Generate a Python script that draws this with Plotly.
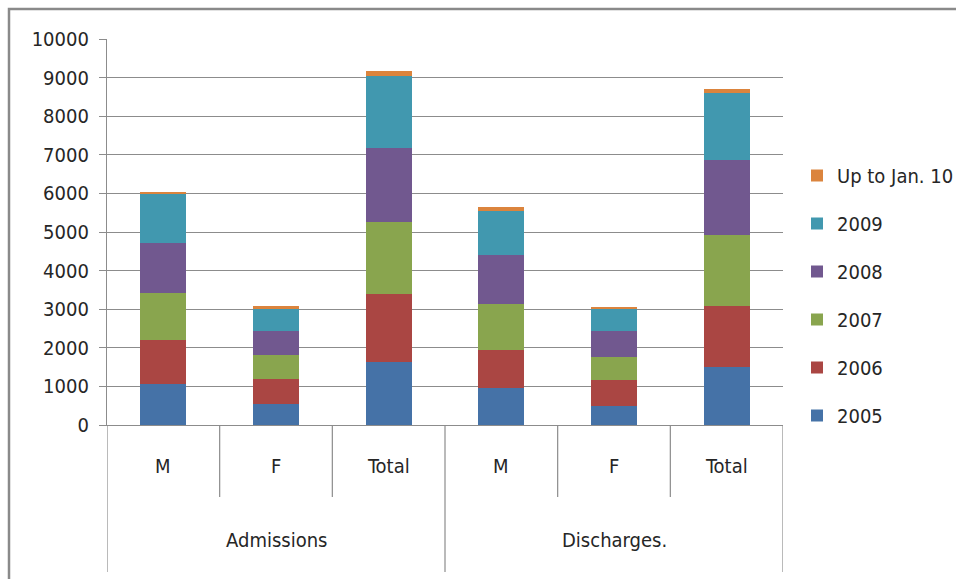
import plotly.graph_objects as go

# Stacked admissions / discharges by year
groups = ["Admissions", "Admissions", "Admissions", "Discharges.", "Discharges.", "Discharges."]
subcats = ["M", "F", "Total", "M", "F", "Total"]
group_labels = ["Admissions", "Discharges."]

series_names = ["2005", "2006", "2007", "2008", "2009", "Up to Jan. 10"]
v2005 = [1065, 537, 1636, 970, 502, 1498]
v2006 = [1134, 666, 1758, 961, 667, 1593]
v2007 = [1221, 598, 1853, 1195, 597, 1827]
v2008 = [1299, 623, 1922, 1290, 658, 1956]
v2009 = [1264, 606, 1861, 1125, 572, 1732]
vjan10 = [60, 44, 130, 104, 69, 95]
series_values = [v2005, v2006, v2007, v2008, v2009, vjan10]

colors = ["#4572A7", "#AA4643", "#89A54E", "#71588F", "#4198AF", "#DB843D"]

y_ticks = [0, 1000, 2000, 3000, 4000, 5000, 6000, 7000, 8000, 9000, 10000]
y_tick_text = [str(v) for v in y_ticks]

W, H = 956, 579
ML, MR, MT, MB = 107, 173, 39, 154
PW, PH = W - ML - MR, H - MT - MB

FONT = "Liberation Sans Narrow, DejaVu Sans Condensed, Arial Narrow, sans-serif"
FS = 20
GRID = "#8c8c8c"
TEXT = "#262626"


def px_x(px):
    return (px - ML) / PW


def px_y(py):
    return (H - MB - py) / PH


xs = list(range(len(subcats)))
n = len(series_names)

fig = go.Figure()
for i, (name, vals, col) in enumerate(zip(series_names, series_values, colors)):
    fig.add_trace(go.Bar(
        x=xs, y=vals, name=name, marker=dict(color=col, line=dict(width=0)),
        legendgroup=name, legendrank=n - i,
    ))

shapes = []
# boundaries between sub-categories (short) and between groups (long)
for b in [0.5, 1.5, 3.5, 4.5]:
    shapes.append(dict(type="line", xref="x", yref="paper", x0=b, x1=b,
                       y0=0, y1=px_y(497), line=dict(color=GRID, width=1.2)))
for b in [-0.5, 2.5, 5.5]:
    shapes.append(dict(type="line", xref="x", yref="paper", x0=b, x1=b,
                       y0=0, y1=px_y(572), line=dict(color=GRID, width=1.2)))
# chart frame
shapes.append(dict(type="rect", xref="paper", yref="paper",
                   x0=px_x(9), x1=px_x(975), y0=px_y(595), y1=px_y(9),
                   line=dict(color="#8a8a8a", width=2.5)))

annotations = []
for i, s in enumerate(subcats):
    annotations.append(dict(x=i, y=px_y(466), xref="x", yref="paper", text=s,
                            showarrow=False, font=dict(family=FONT, size=FS, color=TEXT),
                            xanchor="center", yanchor="middle"))
for gi, g in enumerate(group_labels):
    annotations.append(dict(x=gi * 3 + 1, y=px_y(540), xref="x", yref="paper", text=g,
                            showarrow=False, font=dict(family=FONT, size=FS, color=TEXT),
                            xanchor="center", yanchor="middle"))

fig.update_layout(
    barmode="stack",
    bargap=0.59,
    width=W, height=H,
    margin=dict(l=ML, r=MR, t=MT, b=MB, pad=0, autoexpand=False),
    paper_bgcolor="white", plot_bgcolor="white",
    font=dict(family=FONT, size=FS, color=TEXT),
    showlegend=True,
    legend=dict(
        x=px_x(797), y=px_y(156), xanchor="left", yanchor="top",
        traceorder="grouped", tracegroupgap=19,
        font=dict(family=FONT, size=FS, color=TEXT),
        itemwidth=30, bgcolor="rgba(0,0,0,0)",
    ),
    xaxis=dict(range=[-0.5, 5.5], showticklabels=False, showgrid=False,
               showline=True, linecolor=GRID, linewidth=1.2, zeroline=False,
               ticks=""),
    yaxis=dict(range=[0, 10000], tickvals=y_ticks, ticktext=y_tick_text,
               showgrid=True, gridcolor=GRID,
               gridwidth=1.2, showline=True, linecolor=GRID, linewidth=1.2,
               ticks="outside", ticklen=7, tickcolor=GRID, tickwidth=1.2,
               zeroline=False, tickfont=dict(family=FONT, size=FS, color=TEXT),
               ticklabelstandoff=6),
    shapes=shapes,
    annotations=annotations,
)

fig.write_html("out.html")
